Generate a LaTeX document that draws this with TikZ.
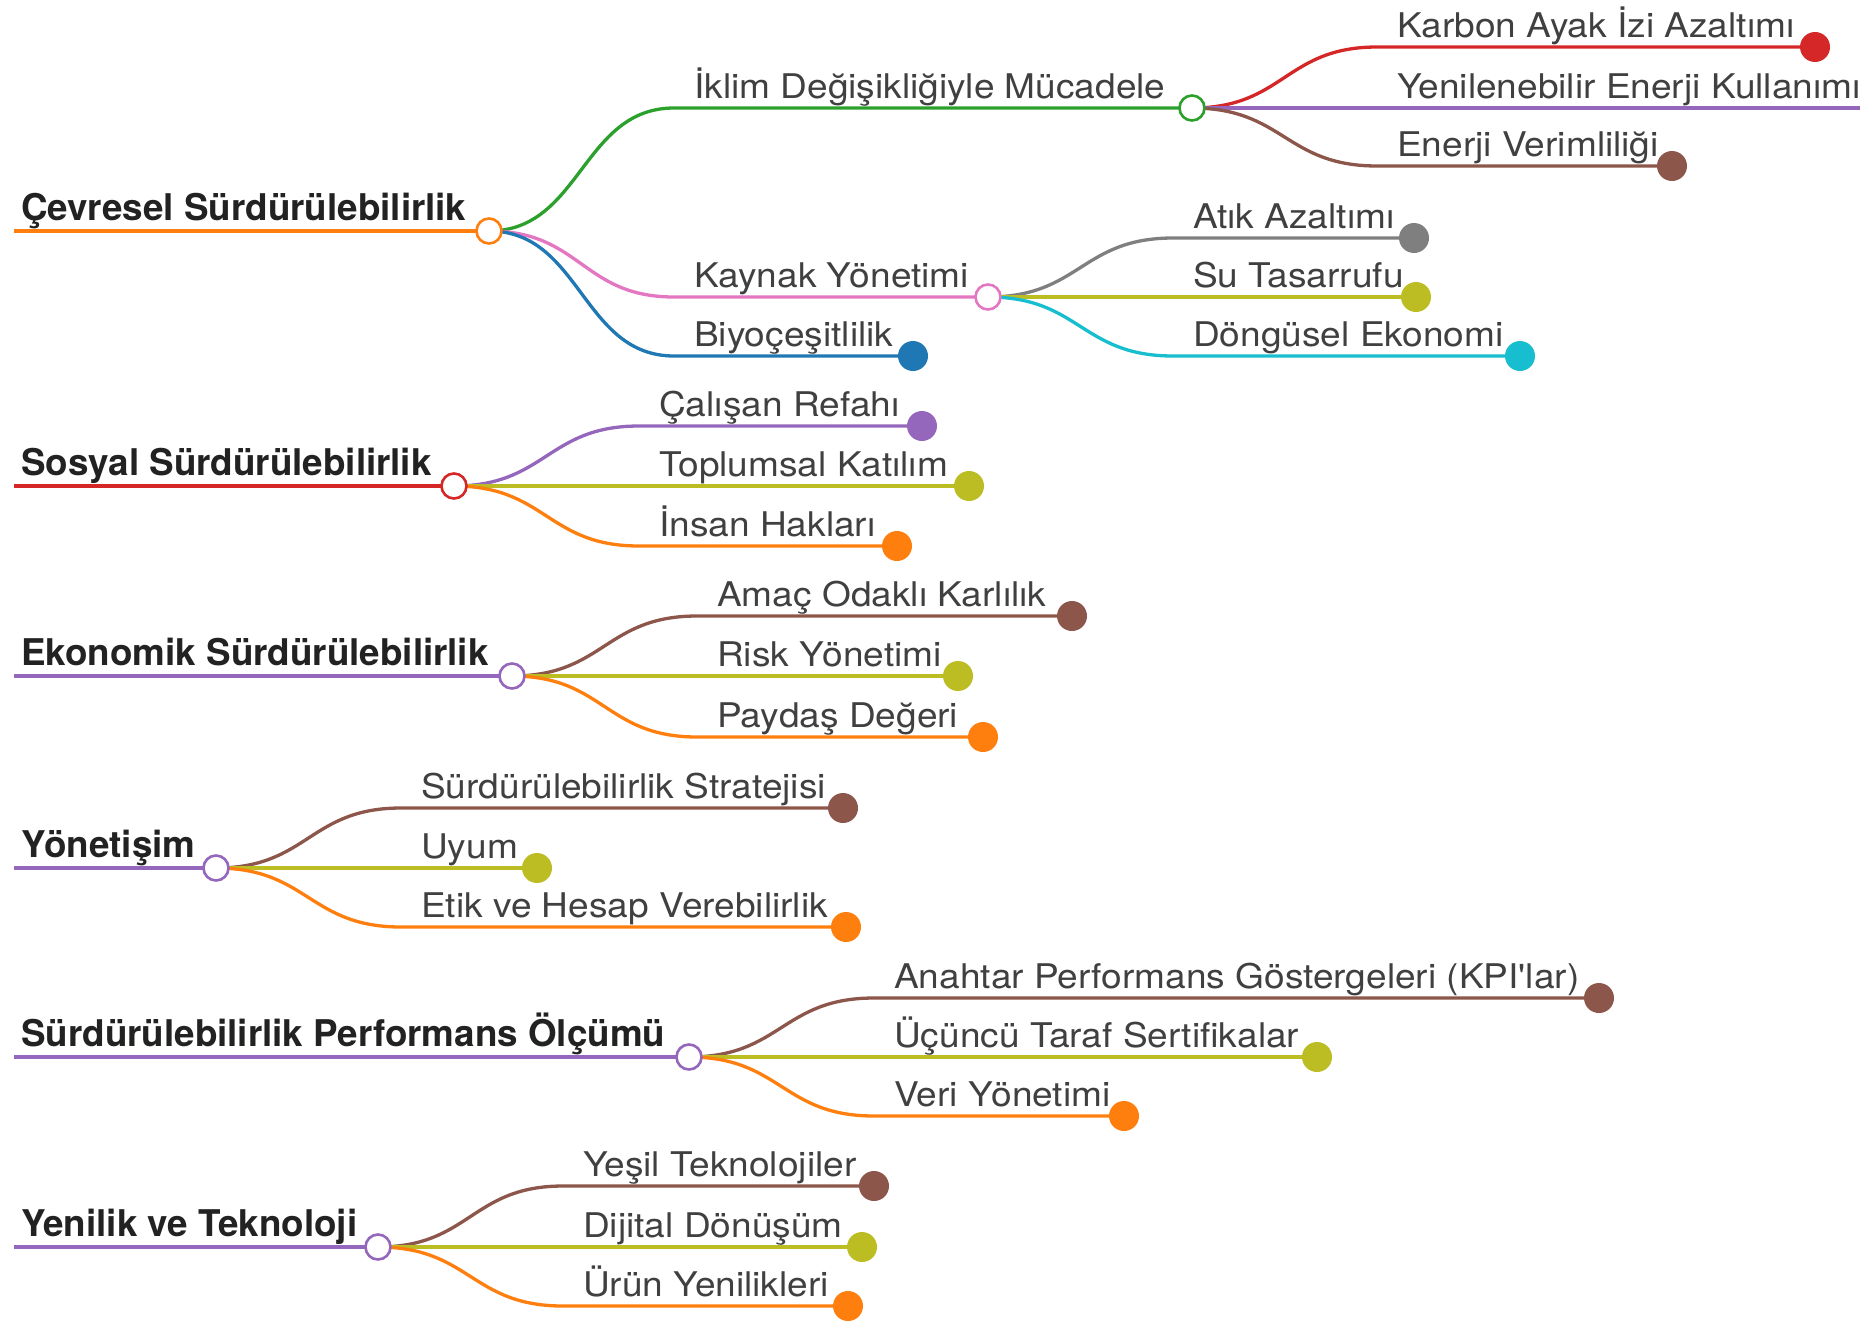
\documentclass[tikz,border=0pt]{standalone}
\usepackage{fontspec}
\newfontfamily\leaffont{TeX Gyre Heros}[FakeStretch=1.09]
\newfontfamily\rootfont{TeX Gyre Heros}
\usetikzlibrary{backgrounds}
\definecolor{corange}{HTML}{FF7F0E}
\definecolor{cred}{HTML}{D62728}
\definecolor{cgreen}{HTML}{2CA02C}
\definecolor{cpurple}{HTML}{9467BD}
\definecolor{cbrown}{HTML}{8C564B}
\definecolor{cpink}{HTML}{E377C2}
\definecolor{cgray}{HTML}{7F7F7F}
\definecolor{colive}{HTML}{BCBD22}
\definecolor{ccyan}{HTML}{17BECF}
\definecolor{cblue}{HTML}{1F77B4}
\definecolor{txtgray}{HTML}{404040}
\definecolor{txtdark}{HTML}{222222}
\tikzset{
  leaflbl/.style={anchor=base west, inner sep=0pt, text=txtgray, font=\leaffont\fontsize{34}{40}\selectfont},
  rootlbl/.style={anchor=base west, inner sep=0pt, text=txtdark, font=\rootfont\bfseries\fontsize{36.8}{44}\selectfont},
  hubring/.style={circle, draw=#1, fill=white, line width=2.6pt, minimum size=25pt, inner sep=0pt},
  leafdot/.style={circle, fill=#1, minimum size=30pt, inner sep=0pt},
  lnk/.style={draw=#1, line width=3.3pt}
}
% root: name, y, circle x, text
\newcommand\mmroot[4]{%
  \coordinate (#1s) at (14,#2);
  \node[rootlbl] (#1t) at (21,#2-11) {#4};
}
% child: name, parent circle x, y, end x, text
\newcommand\mmkid[5]{%
  \coordinate (#1s) at (#2+185,#3);
  \node[leaflbl] (#1t) at (#2+205,#3-10) {#5};
}
\newcommand\mmlink[3]{%
  \draw[lnk=#3] (#1.center) .. controls +(92,0) and +(-92,0) .. (#2s) -- (#2c.center);
}
\begin{document}
\begin{tikzpicture}[x=1pt,y=-1pt]
\useasboundingbox (0,0) rectangle (1860,1325);

% ---------- Çevresel ----------
\mmroot{r1}{231}{489}{Çevresel Sürdürülebilirlik}
\node[hubring=corange] (r1c) at (489,231) {};
\mmkid{a1}{489}{108}{1192}{İklim Değişikliğiyle Mücadele}
\node[hubring=cgreen] (a1c) at (1192,108) {};
\mmkid{a11}{1192}{47}{1815}{Karbon Ayak İzi Azaltımı}
\node[leafdot=cred] (a11c) at (1815,47) {};
\mmkid{a12}{1192}{108}{1860}{Yenilenebilir Enerji Kullanımı}
\coordinate (a12c) at (1860,108);
\mmkid{a13}{1192}{166}{1672}{Enerji Verimliliği}
\node[leafdot=cbrown] (a13c) at (1672,166) {};
\mmkid{a2}{489}{297}{988}{Kaynak Yönetimi}
\node[hubring=cpink] (a2c) at (988,297) {};
\mmkid{a21}{988}{238}{1414}{Atık Azaltımı}
\node[leafdot=cgray] (a21c) at (1414,238) {};
\mmkid{a22}{988}{297}{1416}{Su Tasarrufu}
\node[leafdot=colive] (a22c) at (1416,297) {};
\mmkid{a23}{988}{356}{1520}{Döngüsel Ekonomi}
\node[leafdot=ccyan] (a23c) at (1520,356) {};
\mmkid{a3}{489}{356}{913}{Biyoçeşitlilik}
\node[leafdot=cblue] (a3c) at (913,356) {};

% ---------- Sosyal ----------
\mmroot{r2}{486}{454}{Sosyal Sürdürülebilirlik}
\node[hubring=cred] (r2c) at (454,486) {};
\mmkid{b1}{454}{426}{922}{Çalışan Refahı}
\node[leafdot=cpurple] (b1c) at (922,426) {};
\mmkid{b2}{454}{486}{969}{Toplumsal Katılım}
\node[leafdot=colive] (b2c) at (969,486) {};
\mmkid{b3}{454}{546}{897}{İnsan Hakları}
\node[leafdot=corange] (b3c) at (897,546) {};

% ---------- Ekonomik ----------
\mmroot{r3}{676}{512}{Ekonomik Sürdürülebilirlik}
\node[hubring=cpurple] (r3c) at (512,676) {};
\mmkid{c1}{512}{616}{1072}{Amaç Odaklı Karlılık}
\node[leafdot=cbrown] (c1c) at (1072,616) {};
\mmkid{c2}{512}{676}{958}{Risk Yönetimi}
\node[leafdot=colive] (c2c) at (958,676) {};
\mmkid{c3}{512}{737}{983}{Paydaş Değeri}
\node[leafdot=corange] (c3c) at (983,737) {};

% ---------- Yönetişim ----------
\mmroot{r4}{868}{216}{Yönetişim}
\node[hubring=cpurple] (r4c) at (216,868) {};
\mmkid{d1}{216}{808}{843}{Sürdürülebilirlik Stratejisi}
\node[leafdot=cbrown] (d1c) at (843,808) {};
\mmkid{d2}{216}{868}{537}{Uyum}
\node[leafdot=colive] (d2c) at (537,868) {};
\mmkid{d3}{216}{927}{846}{Etik ve Hesap Verebilirlik}
\node[leafdot=corange] (d3c) at (846,927) {};

% ---------- Performans ----------
\mmroot{r5}{1057}{689}{Sürdürülebilirlik Performans Ölçümü}
\node[hubring=cpurple] (r5c) at (689,1057) {};
\mmkid{e1}{689}{998}{1599}{Anahtar Performans Göstergeleri (KPI'lar)}
\node[leafdot=cbrown] (e1c) at (1599,998) {};
\mmkid{e2}{689}{1057}{1317}{Üçüncü Taraf Sertifikalar}
\node[leafdot=colive] (e2c) at (1317,1057) {};
\mmkid{e3}{689}{1116}{1124}{Veri Yönetimi}
\node[leafdot=corange] (e3c) at (1124,1116) {};

% ---------- Yenilik ----------
\mmroot{r6}{1247}{378}{Yenilik ve Teknoloji}
\node[hubring=cpurple] (r6c) at (378,1247) {};
\mmkid{f1}{378}{1186}{874}{Yeşil Teknolojiler}
\node[leafdot=cbrown] (f1c) at (874,1186) {};
\mmkid{f2}{378}{1247}{862}{Dijital Dönüşüm}
\node[leafdot=colive] (f2c) at (862,1247) {};
\mmkid{f3}{378}{1306}{848}{Ürün Yenilikleri}
\node[leafdot=corange] (f3c) at (848,1306) {};

\begin{scope}[on background layer]
  \fill[white] (0,0) rectangle (1860,1325);
  % root lines
  \draw[lnk=corange] (r1s) -- (r1c.center);
  \draw[lnk=cred] (r2s) -- (r2c.center);
  \draw[lnk=cpurple] (r3s) -- (r3c.center);
  \draw[lnk=cpurple] (r4s) -- (r4c.center);
  \draw[lnk=cpurple] (r5s) -- (r5c.center);
  \draw[lnk=cpurple] (r6s) -- (r6c.center);
  % Çevresel
  \mmlink{r1c}{a1}{cgreen}
  \mmlink{a1c}{a11}{cred}
  \mmlink{a1c}{a12}{cpurple}
  \mmlink{a1c}{a13}{cbrown}
  \mmlink{r1c}{a2}{cpink}
  \mmlink{a2c}{a21}{cgray}
  \mmlink{a2c}{a22}{colive}
  \mmlink{a2c}{a23}{ccyan}
  \mmlink{r1c}{a3}{cblue}
  % Sosyal
  \mmlink{r2c}{b1}{cpurple}
  \mmlink{r2c}{b2}{colive}
  \mmlink{r2c}{b3}{corange}
  % Ekonomik
  \mmlink{r3c}{c1}{cbrown}
  \mmlink{r3c}{c2}{colive}
  \mmlink{r3c}{c3}{corange}
  % Yönetişim
  \mmlink{r4c}{d1}{cbrown}
  \mmlink{r4c}{d2}{colive}
  \mmlink{r4c}{d3}{corange}
  % Performans
  \mmlink{r5c}{e1}{cbrown}
  \mmlink{r5c}{e2}{colive}
  \mmlink{r5c}{e3}{corange}
  % Yenilik
  \mmlink{r6c}{f1}{cbrown}
  \mmlink{r6c}{f2}{colive}
  \mmlink{r6c}{f3}{corange}
\end{scope}
\end{tikzpicture}
\end{document}
